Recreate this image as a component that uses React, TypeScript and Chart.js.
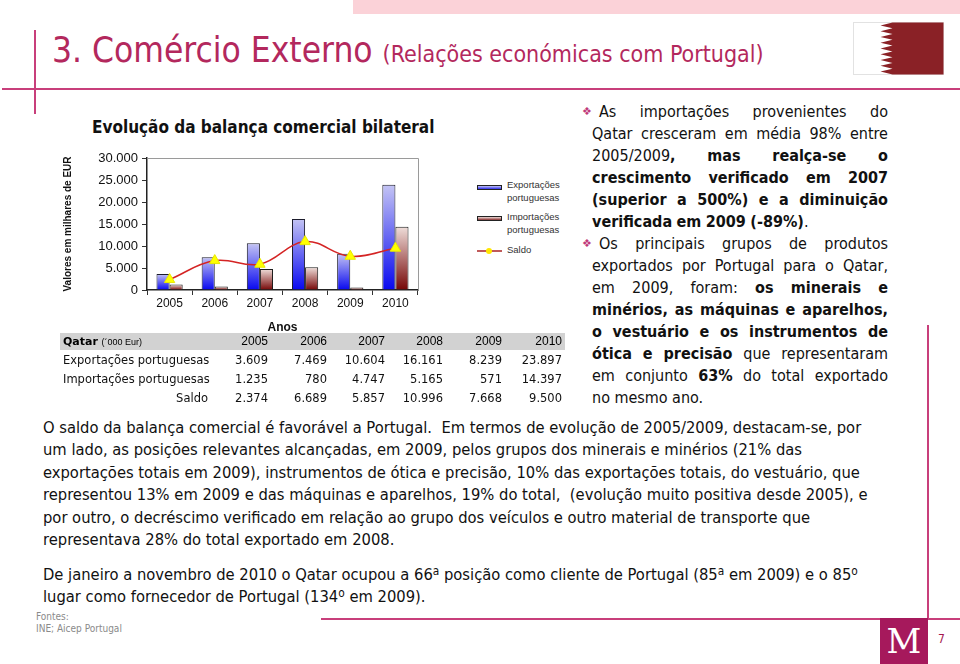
import React, { useEffect, useRef } from 'react';
import { Chart, registerables } from 'chart.js';

Chart.register(...registerables);

// ---- data ----
const years = ['2005', '2006', '2007', '2008', '2009', '2010'];
const exportsPT = [3609, 7469, 10604, 16161, 8239, 23897];
const importsPT = [1235, 780, 4747, 5165, 571, 14397];
const saldo = [2374, 6689, 5857, 10996, 7668, 9500];
const yMax = 30000;
const yStep = 5000;

const fmt = (n: number) => String(n).replace(/\B(?=(\d{3})+(?!\d))/g, '.');

const BODY = '"DejaVu Sans Condensed", "Noto Sans", sans-serif';
const TABLEF = '"DejaVu Sans", sans-serif';
const ARIAL = '"Liberation Sans", Arial, sans-serif';
const TITLE_C = '#b3285d';
const LINE_C = '#c83f7b';

const grad = (top: string, bottom: string) => (ctx: any) => {
  const chart = ctx.chart;
  const ys = chart.scales && chart.scales.y;
  if (!chart.chartArea || !ys || ctx.type !== 'data') return bottom;
  const v = ctx.raw as number;
  const y0 = ys.getPixelForValue(v);
  const y1 = ys.getPixelForValue(0);
  const g = chart.ctx.createLinearGradient(0, y0, 0, y1 + 0.01);
  g.addColorStop(0, top);
  g.addColorStop(1, bottom);
  return g;
};

const framePlugin = {
  id: 'frame',
  beforeDatasetsDraw(chart: any) {
    const { ctx, chartArea } = chart;
    const { left, top, right, bottom } = chartArea;
    ctx.save();
    ctx.strokeStyle = '#9a9a9a';
    ctx.lineWidth = 1;
    ctx.beginPath();
    ctx.moveTo(left, Math.round(top) + 0.5);
    ctx.lineTo(Math.round(right) + 0.5, Math.round(top) + 0.5);
    ctx.lineTo(Math.round(right) + 0.5, bottom);
    ctx.stroke();
    ctx.restore();
  },
};

function BalanceChart() {
  const ref = useRef<HTMLCanvasElement>(null);
  useEffect(() => {
    const chart = new Chart(ref.current as HTMLCanvasElement, {
      type: 'bar',
      data: {
        labels: years,
        datasets: [
          {
            type: 'line',
            label: 'Saldo',
            data: saldo,
            order: 0,
            borderColor: '#d42424',
            borderWidth: 1.5,
            tension: 0.4,
            fill: false,
            pointStyle: 'triangle',
            pointRadius: 6,
            pointBackgroundColor: '#ffff00',
            pointBorderColor: '#e8e800',
            pointBorderWidth: 1,
          } as any,
          {
            type: 'bar',
            label: 'Exportações portuguesas',
            data: exportsPT,
            order: 1,
            backgroundColor: grad('#c4c4f4', '#0808f0'),
            borderColor: '#1c1c2c',
            borderWidth: 1,
            categoryPercentage: 0.58,
            barPercentage: 1,
          } as any,
          {
            type: 'bar',
            label: 'Importações portuguesas',
            data: importsPT,
            order: 1,
            backgroundColor: grad('#efdeda', '#760606'),
            borderColor: '#1c1c1c',
            borderWidth: 1,
            categoryPercentage: 0.58,
            barPercentage: 1,
          } as any,
        ],
      },
      options: {
        animation: false,
        responsive: false,
        maintainAspectRatio: false,
        layout: { padding: { top: 18, right: 22, left: 0, bottom: 0 } },
        plugins: { legend: { display: false }, tooltip: { enabled: false } },
        scales: {
          x: {
            grid: { offset: true, drawOnChartArea: false, tickLength: 5, color: '#333' },
            border: { color: '#222', width: 1.5 },
            ticks: { font: { family: ARIAL, size: 12 }, color: '#111', padding: 1 },
            title: {
              display: true,
              text: 'Anos',
              font: { family: ARIAL, size: 12, weight: 'bold' },
              color: '#111',
              padding: { top: 0, bottom: 1 },
            },
            afterFit: (s: any) => {
              s.height = 46;
            },
          },
          y: {
            min: 0,
            max: yMax,
            ticks: {
              stepSize: yStep,
              callback: (v: any) => fmt(Number(v)),
              font: { family: ARIAL, size: 13 },
              color: '#111',
              padding: 4,
            },
            grid: { drawOnChartArea: false, tickLength: 5, color: '#333' },
            border: { color: '#222', width: 1.5 },
            title: {
              display: true,
              text: 'Valores em milhares de EUR',
              font: { family: ARIAL, size: 10, weight: 'bold' },
              color: '#111',
              padding: { top: 2, bottom: 0 },
            },
            afterFit: (s: any) => {
              s.width = 87;
            },
          },
        },
      } as any,
      plugins: [framePlugin],
    });
    return () => chart.destroy();
  }, []);
  return (
    <canvas
      ref={ref}
      width={380}
      height={196}
      style={{ position: 'absolute', left: 60, top: 140, width: 380, height: 196 }}
    />
  );
}

type Seg = [string, boolean?];

function JLine({ segs, left, top, width, justify }: { segs: Seg[]; left: number; top: number; width: number; justify: boolean }) {
  // split into words; each word is a list of runs (text, bold)
  const words: { t: string; b: boolean }[][] = [];
  let cur: { t: string; b: boolean }[] = [];
  segs.forEach(([t, b]) => {
    const parts = t.split(' ');
    parts.forEach((p, i) => {
      if (i > 0) {
        if (cur.length) words.push(cur);
        cur = [];
      }
      if (p !== '') cur.push({ t: p, b: !!b });
    });
  });
  if (cur.length) words.push(cur);
  return (
    <div
      style={{
        position: 'absolute',
        left,
        top,
        width,
        height: 22,
        lineHeight: '22px',
        display: 'flex',
        justifyContent: justify ? 'space-between' : 'flex-start',
        gap: justify ? 0 : '0.28em',
        whiteSpace: 'nowrap',
      }}
    >
      {words.map((g, i) => (
        <span key={i}>
          {g.map((w, j) => (
            <span key={j} style={{ fontWeight: w.b ? 'bold' : 'normal' }}>
              {w.t}
            </span>
          ))}
        </span>
      ))}
    </div>
  );
}

const rightLines: { segs: Seg[]; bullet?: boolean; last?: boolean }[] = [
  { segs: [['As importações provenientes do']], bullet: true },
  { segs: [['Qatar cresceram em média 98% entre']] },
  { segs: [['2005/2009'], [', mas realça-se o', true]] },
  { segs: [['crescimento verificado em 2007', true]] },
  { segs: [['(superior a 500%) e a diminuição', true]] },
  { segs: [['verificada em 2009 (-89%)', true], ['.']], last: true },
  { segs: [['Os principais grupos de produtos']], bullet: true },
  { segs: [['exportados por Portugal para o Qatar,']] },
  { segs: [['em 2009, foram: '], ['os minerais e', true]] },
  { segs: [['minérios, as máquinas e aparelhos,', true]] },
  { segs: [['o vestuário e os instrumentos de', true]] },
  { segs: [['ótica e precisão', true], [' que representaram']] },
  { segs: [['em conjunto '], ['63%', true], [' do total exportado']] },
  { segs: [['no mesmo ano.']], last: true },
];

const Sup = ({ c }: { c: string }) => (
  <span style={{ fontSize: '0.72em', verticalAlign: '0.45em', lineHeight: 0 }}>{c}</span>
);

const bottomLines: { y: number; node: React.ReactNode }[] = [
  { y: 428, node: 'O saldo da balança comercial é favorável a Portugal.\u00a0 Em termos de evolução de 2005/2009, destacam-se, por' },
  { y: 450, node: 'um lado, as posições relevantes alcançadas, em 2009, pelos grupos dos minerais e minérios (21% das' },
  { y: 473, node: 'exportações totais em 2009), instrumentos de ótica e precisão, 10% das exportações totais, do vestuário, que' },
  { y: 495, node: 'representou 13% em 2009 e das máquinas e aparelhos, 19% do total,\u00a0 (evolução muito positiva desde 2005), e' },
  { y: 518, node: 'por outro, o decréscimo verificado em relação ao grupo dos veículos e outro material de transporte que' },
  { y: 540, node: 'representava 28% do total exportado em 2008.' },
  {
    y: 575,
    node: (
      <>
        De janeiro a novembro de 2010 o Qatar ocupou a 66<Sup c="a" /> posição como cliente de Portugal (85<Sup c="a" /> em 2009) e o 85
        <Sup c="o" />
      </>
    ),
  },
  {
    y: 597,
    node: (
      <>
        lugar como fornecedor de Portugal (134<Sup c="o" /> em 2009).
      </>
    ),
  },
];

const colRight = [268, 327, 385, 443, 502, 562];

function Flag() {
  const W = 90;
  const H = 52;
  const tip = 27;
  const notch = 39;
  const n = 9;
  const h = H / n;
  const pts: string[] = [`${W},0`, `${notch},0`];
  for (let i = 0; i < n; i++) {
    pts.push(`${tip},${(i + 0.5) * h}`);
    pts.push(`${notch},${(i + 1) * h}`);
  }
  pts.push(`${W},${H}`);
  return (
    <svg style={{ position: 'absolute', left: 853, top: 22 }} width={W + 1} height={H + 1}>
      <rect x={0.5} y={0.5} width={W} height={H} fill="#fff" stroke="#e2e2e2" />
      <polygon points={pts.join(' ')} fill="#8a2126" transform="translate(0.5,0.5)" />
    </svg>
  );
}

export default function App() {
  const abs = (s: React.CSSProperties): React.CSSProperties => ({ position: 'absolute', ...s });
  return (
    <div
      style={{
        position: 'fixed',
        left: 0,
        top: 0,
        width: 960,
        height: 664,
        overflow: 'hidden',
        background: '#fff',
        fontFamily: BODY,
        color: '#000',
      }}
    >
      {/* decorations */}
      <div style={abs({ left: 353, top: 0, width: 607, height: 14, background: '#fbd2d8' })} />
      <div style={abs({ left: 34, top: 30, width: 2, height: 84, background: LINE_C })} />
      <div style={abs({ left: 2, top: 88, width: 958, height: 2, background: LINE_C })} />
      <Flag />
      <div style={abs({ left: 927, top: 325, width: 2, height: 294, background: LINE_C })} />
      <div style={abs({ left: 321, top: 618, width: 639, height: 2, background: LINE_C })} />
      <div
        style={abs({
          left: 880,
          top: 618,
          width: 48,
          height: 46,
          background: '#a6195c',
          color: '#fff',
          fontFamily: '"DejaVu Serif", "Liberation Serif", serif',
          fontSize: 34,
          lineHeight: '46px',
          textAlign: 'center',
          overflow: 'hidden',
        })}
      >
        M
      </div>
      <div style={abs({ left: 938, top: 632, fontSize: 12, color: '#a3184f', fontFamily: BODY })}>7</div>

      {/* title */}
      <div style={abs({ left: 52, top: 30, fontSize: 35, lineHeight: '40px', color: TITLE_C, whiteSpace: 'nowrap' })}>
        3. Comércio Externo <span style={{ fontSize: 23 }}>(Relações económicas com Portugal)</span>
      </div>

      {/* chart title */}
      <div style={abs({ left: 92, top: 116, fontSize: 17, lineHeight: '22px', fontWeight: 'bold', color: '#111', whiteSpace: 'nowrap' })}>
        Evolução da balança comercial bilateral
      </div>

      <BalanceChart />

      {/* legend */}
      <div style={abs({ left: 477, top: 185, width: 25, height: 5, border: '1px solid #222', background: 'linear-gradient(#c4c4f4, #3030f0)', boxSizing: 'border-box' })} />
      <div style={abs({ left: 507, top: 179, fontSize: 9.5, lineHeight: '12.5px', color: '#333', fontFamily: ARIAL })}>
        Exportações
        <br />
        portuguesas
      </div>
      <div style={abs({ left: 477, top: 216, width: 25, height: 5, border: '1px solid #222', background: 'linear-gradient(#efdeda, #8a3030)', boxSizing: 'border-box' })} />
      <div style={abs({ left: 507, top: 211, fontSize: 9.5, lineHeight: '12.5px', color: '#333', fontFamily: ARIAL })}>
        Importações
        <br />
        portuguesas
      </div>
      <div style={abs({ left: 477, top: 250, width: 25, height: 1.5, background: '#c05a5a' })} />
      <div style={abs({ left: 486, top: 247.5, width: 6, height: 6, borderRadius: 3, background: '#ffe600' })} />
      <div style={abs({ left: 507, top: 244, fontSize: 9.5, lineHeight: '12.5px', color: '#333', fontFamily: ARIAL })}>Saldo</div>

      {/* table */}
      <div style={abs({ left: 60, top: 333, width: 505, height: 17, background: '#d2d2d2' })} />
      <div style={abs({ left: 63, top: 333, lineHeight: '17px', fontSize: 11, whiteSpace: 'nowrap', fontFamily: TABLEF })}>
        <b>Qatar</b> <span style={{ fontFamily: ARIAL, fontSize: 9 }}>(´000 Eur)</span>
      </div>
      {years.map((y, i) => (
        <div key={y} style={abs({ left: colRight[i] - 60, width: 60, top: 333, lineHeight: '17px', fontSize: 12, textAlign: 'right', fontFamily: ARIAL })}>
          {y}
        </div>
      ))}
      {[
        { label: 'Exportações portuguesas', vals: exportsPT, y: 360, right: false },
        { label: 'Importações portuguesas', vals: importsPT, y: 379, right: false },
        { label: 'Saldo', vals: saldo, y: 398, right: true },
      ].map((r) => (
        <React.Fragment key={r.label}>
          <div
            style={abs(
              r.right
                ? { left: 108, width: 100, textAlign: 'right', top: r.y - 9, lineHeight: '18px', fontSize: 11.5, fontFamily: TABLEF, color: '#111' }
                : { left: 63, top: r.y - 9, lineHeight: '18px', fontSize: 11.5, fontFamily: TABLEF, color: '#111', whiteSpace: 'nowrap' }
            )}
          >
            {r.label}
          </div>
          {r.vals.map((v, i) => (
            <div key={i} style={abs({ left: colRight[i] - 60, width: 60, top: r.y - 9, lineHeight: '18px', fontSize: 11.5, textAlign: 'right', fontFamily: TABLEF, color: '#111' })}>
              {fmt(v)}
            </div>
          ))}
        </React.Fragment>
      ))}

      {/* right column text */}
      <div style={abs({ left: 0, top: 0, fontSize: 16, color: '#111' })}>
        {rightLines.map((l, i) => (
          <React.Fragment key={i}>
            {l.bullet && (
              <div style={abs({ left: 582, top: 101 + i * 22, lineHeight: '22px', fontSize: 11, color: '#c0397a', fontFamily: '"DejaVu Sans", sans-serif' })}>❖</div>
            )}
            <JLine segs={l.segs} left={l.bullet ? 599 : 592} top={101 + i * 22} width={l.bullet ? 289 : 296} justify={!l.last} />
          </React.Fragment>
        ))}
      </div>

      {/* bottom paragraph */}
      {bottomLines.map((l, i) => (
        <div key={i} style={abs({ left: 43, top: l.y - 11, lineHeight: '22px', fontSize: 16.4, whiteSpace: 'nowrap', color: '#111' })}>
          {l.node}
        </div>
      ))}

      {/* sources */}
      <div style={abs({ left: 36, top: 611, fontSize: 10, lineHeight: '12px', color: '#8a8a8a', whiteSpace: 'nowrap' })}>
        Fontes:
        <br />
        INE; Aicep Portugal
      </div>
    </div>
  );
}
